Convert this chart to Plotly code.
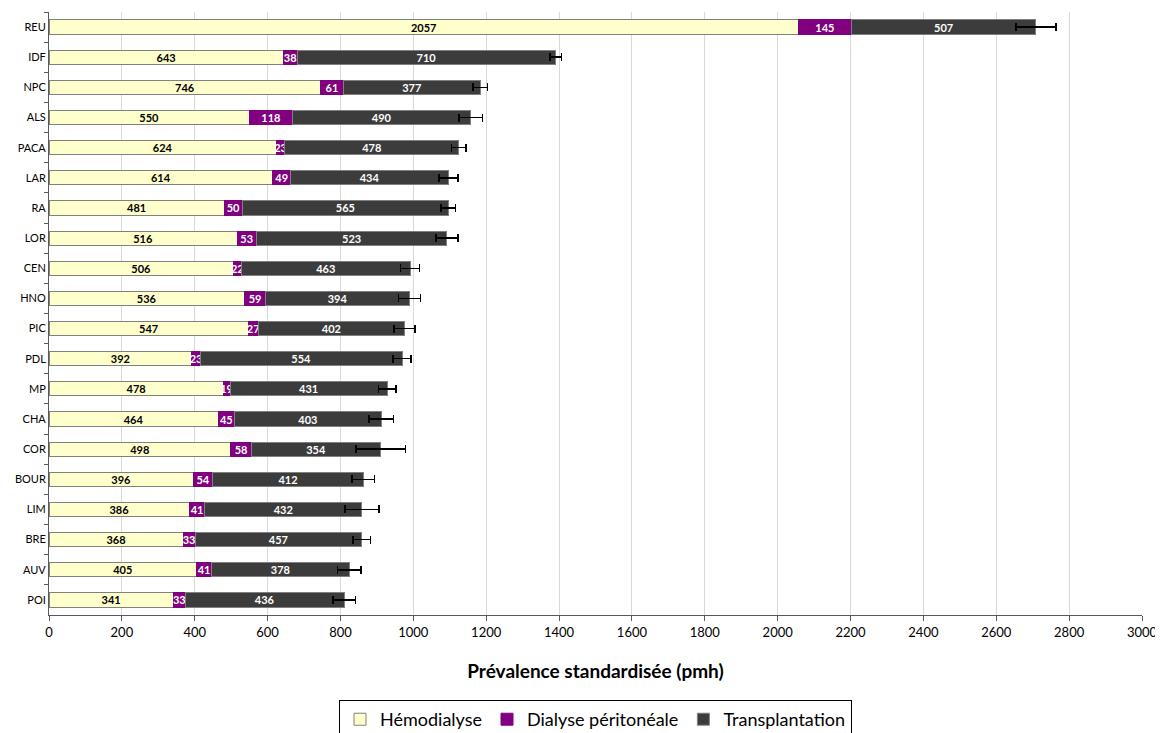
import plotly.graph_objects as go

regions = ["REU", "IDF", "NPC", "ALS", "PACA", "LAR", "RA", "LOR", "CEN", "HNO",
           "PIC", "PDL", "MP", "CHA", "COR", "BOUR", "LIM", "BRE", "AUV", "POI"]
hemodialyse = [2057, 643, 746, 550, 624, 614, 481, 516, 506, 536,
               547, 392, 478, 464, 498, 396, 386, 368, 405, 341]
dialyse_peritoneale = [145, 38, 61, 118, 23, 49, 50, 53, 22, 59,
                       27, 23, 19, 45, 58, 54, 41, 33, 41, 33]
transplantation = [507, 710, 377, 490, 478, 434, 565, 523, 463, 394,
                   402, 554, 431, 403, 354, 412, 432, 457, 378, 436]
erreur = [55, 16, 20, 32, 20, 26, 20, 30, 26, 30,
          29, 25, 24, 34, 68, 31, 47, 24, 32, 31]
x_ticks = list(range(0, 3001, 200))

FONT = "Lato, 'Open Sans', sans-serif"

fig = go.Figure()
fig.add_trace(go.Bar(
    y=regions, x=hemodialyse, orientation="h", name="Hémodialyse",
    marker=dict(color="#FFFFCC", line=dict(color="#808080", width=1)),
    text=[str(v) for v in hemodialyse], textposition="inside", textangle=0,
    insidetextanchor="middle", constraintext="none",
    textfont=dict(family=FONT, size=11, color="black", weight="bold"),
))
fig.add_trace(go.Bar(
    y=regions, x=dialyse_peritoneale, orientation="h", name="Dialyse péritonéale",
    marker=dict(color="#800080", line=dict(color="#800080", width=1)),
    text=[str(v) for v in dialyse_peritoneale], textposition="inside", textangle=0,
    insidetextanchor="middle", constraintext="none",
    textfont=dict(family=FONT, size=11, color="white", weight="bold"),
))
fig.add_trace(go.Bar(
    y=regions, x=transplantation, orientation="h", name="Transplantation",
    marker=dict(color="#3C3C3C", line=dict(color="#808080", width=1)),
    text=[str(v) for v in transplantation], textposition="inside", textangle=0,
    insidetextanchor="middle", constraintext="none",
    textfont=dict(family=FONT, size=11, color="white", weight="bold"),
    error_x=dict(type="data", array=erreur, symmetric=True,
                 color="black", thickness=1.5, width=4),
))

fig.update_layout(
    barmode="stack",
    bargap=0.53,
    width=1155, height=740,
    margin=dict(l=41, r=21, t=4, b=133),
    plot_bgcolor="white", paper_bgcolor="white",
    font=dict(family=FONT, size=12, color="black"),
    uniformtext=dict(minsize=11, mode="show"),
    xaxis=dict(
        range=[0, 3000], tickvals=x_ticks, ticktext=[str(t) for t in x_ticks],
        automargin=False,
        showgrid=True, gridcolor="#D9D9D9", gridwidth=1,
        showline=True, linecolor="#595959", linewidth=1,
        ticks="outside", ticklen=5, tickcolor="#595959",
        tickfont=dict(family=FONT, size=13),
        zeroline=False,
        title=dict(text="<b>Prévalence standardisée (pmh)</b>",
                   font=dict(family=FONT, size=19), standoff=26),
    ),
    yaxis=dict(
        autorange="reversed", automargin=False,
        showline=True, linecolor="#595959", linewidth=1,
        ticks="outside", ticklen=4, tickcolor="#595959", tickson="boundaries",
        tickfont=dict(family=FONT, size=11),
        showgrid=False,
    ),
    legend=dict(
        orientation="h", x=0.5, xanchor="center", y=-0.141, yanchor="top",
        bordercolor="black", borderwidth=1,
        font=dict(family=FONT, size=18), itemwidth=30,
        traceorder="normal", tracegroupgap=0,
    ),
)

fig.write_html("out.html")
